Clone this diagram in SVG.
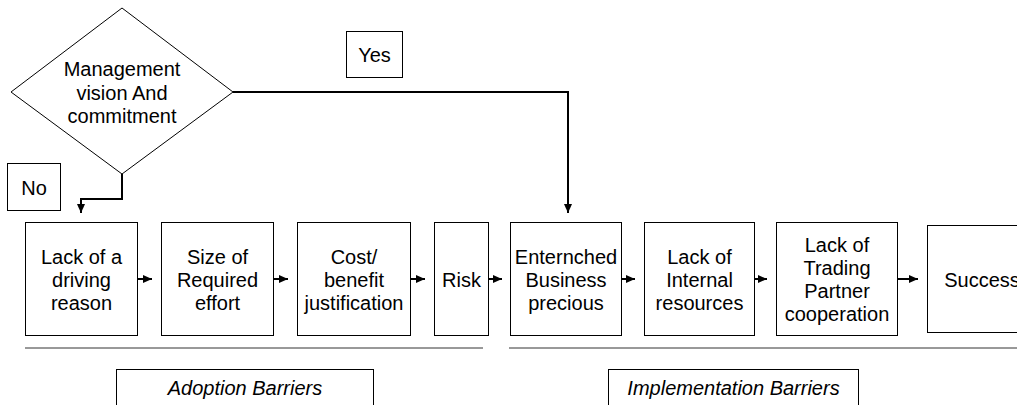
<svg xmlns="http://www.w3.org/2000/svg" width="1017" height="405" viewBox="0 0 1017 405">
<style>
.box{fill:#fff;stroke:#000;stroke-width:1}
.t{font-family:"Liberation Sans",Arial,sans-serif;font-size:20px;fill:#000;text-anchor:middle}
.i{font-style:italic}
.c{fill:none;stroke:#000;stroke-width:2}
.d{fill:none;stroke:#333;stroke-width:1}
</style>
<defs>
<marker id="a" markerUnits="userSpaceOnUse" markerWidth="10" markerHeight="10" refX="9" refY="5" orient="auto">
<path d="M0,1 L9,5 L0,9 Z" fill="#000"/>
</marker>
</defs>
<g id="connectors">
<polyline class="c" points="233,92 568,92 568,213" marker-end="url(#a)"/>
<polyline class="c" points="122,174 122,199 81,199 81,213" marker-end="url(#a)"/>
<line class="c" x1="138" y1="279" x2="152" y2="279" marker-end="url(#a)"/>
<line class="c" x1="274" y1="279" x2="288" y2="279" marker-end="url(#a)"/>
<line class="c" x1="411" y1="279" x2="425" y2="279" marker-end="url(#a)"/>
<line class="c" x1="489" y1="279" x2="502" y2="279" marker-end="url(#a)"/>
<line class="c" x1="622" y1="279" x2="635" y2="279" marker-end="url(#a)"/>
<line class="c" x1="754" y1="279" x2="767" y2="279" marker-end="url(#a)"/>
<line class="c" x1="898" y1="279" x2="918" y2="279" marker-end="url(#a)"/>
</g>
<g id="decision">
<polygon class="box" points="122,8 233,92 122,174 11,92"/>
<text class="t" x="122" y="76">Management</text>
<text class="t" x="122" y="100">vision And</text>
<text class="t" x="122" y="123">commitment</text>
</g>
<g id="yes"><rect class="box" x="346.5" y="31.5" width="56" height="46"/><text class="t" x="374.5" y="62">Yes</text></g>
<g id="no"><rect class="box" x="7.5" y="163.5" width="53" height="47"/><text class="t" x="34" y="195">No</text></g>
<g id="n1"><rect class="box" x="25.5" y="222.5" width="112" height="113"/>
<text class="t" x="81.5" y="264">Lack of a</text><text class="t" x="81.5" y="287">driving</text><text class="t" x="81.5" y="310">reason</text></g>
<g id="n2"><rect class="box" x="161.5" y="222.5" width="112" height="113"/>
<text class="t" x="217.5" y="264">Size of</text><text class="t" x="217.5" y="287">Required</text><text class="t" x="217.5" y="310">effort</text></g>
<g id="n3"><rect class="box" x="297.5" y="222.5" width="113" height="113"/>
<text class="t" x="354" y="264">Cost/</text><text class="t" x="354" y="287">benefit</text><text class="t" x="354" y="310">justification</text></g>
<g id="n4"><rect class="box" x="434.5" y="222.5" width="54" height="113"/>
<text class="t" x="461.5" y="287">Risk</text></g>
<g id="n5"><rect class="box" x="510.5" y="222.5" width="111" height="113"/>
<text class="t" x="566" y="264">Enternched</text><text class="t" x="566" y="287">Business</text><text class="t" x="566" y="310">precious</text></g>
<g id="n6"><rect class="box" x="644.5" y="222.5" width="110" height="113"/>
<text class="t" x="699.5" y="264">Lack of</text><text class="t" x="699.5" y="287">Internal</text><text class="t" x="699.5" y="310">resources</text></g>
<g id="n7"><rect class="box" x="776.5" y="222.5" width="121" height="113"/>
<text class="t" x="837" y="252">Lack of</text><text class="t" x="837" y="275">Trading</text><text class="t" x="837" y="298">Partner</text><text class="t" x="837" y="321">cooperation</text></g>
<g id="n8"><rect class="box" x="927.5" y="225.5" width="110" height="107"/>
<text class="t" x="982" y="287">Success</text></g>
<g id="dividers">
<line class="d" x1="25" y1="348" x2="483" y2="348"/>
<line class="d" x1="509" y1="348" x2="1017" y2="348"/>
</g>
<g id="adoption"><rect class="box" x="116.5" y="369.5" width="257" height="50"/><text class="t i" x="245" y="395">Adoption Barriers</text></g>
<g id="implementation"><rect class="box" x="608.5" y="369.5" width="250" height="50"/><text class="t i" x="733.5" y="395">Implementation Barriers</text></g>
</svg>
